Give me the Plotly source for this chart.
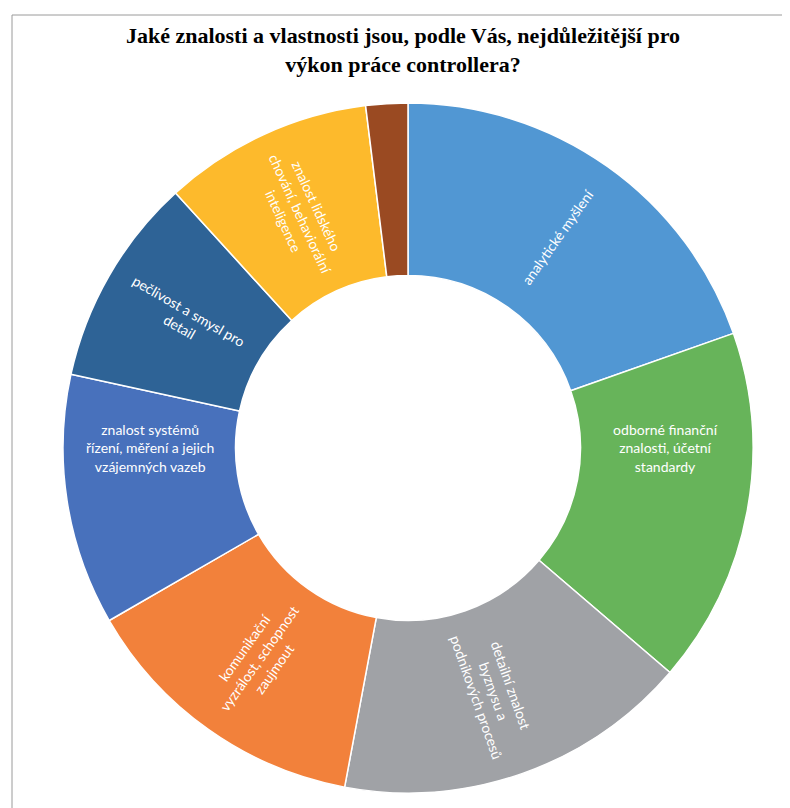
import plotly.graph_objects as go

title_text = "Jaké znalosti a vlastnosti jsou, podle Vás, nejdůležitější pro<br>výkon práce controllera?"

categories = [
    "analytické myšlení",
    "odborné finanční znalosti, účetní standardy",
    "detailní znalost byznysu a podnikových procesů",
    "komunikační vyzrálost, schopnost zaujmout",
    "znalost systémů řízení, měření a jejich vzájemných vazeb",
    "pečlivost a smysl pro detail",
    "znalost lidského chování, behaviorální inteligence",
    "jiné",
]
slice_text = [
    "analytické myšlení",
    "odborné finanční<br>znalosti, účetní<br>standardy",
    "detailní znalost<br>byznysu a<br>podnikových procesů",
    "komunikační<br>vyzrálost, schopnost<br>zaujmout",
    "znalost systémů<br>řízení, měření a jejich<br>vzájemných vazeb",
    "pečlivost a smysl pro<br>detail",
    "znalost lidského<br>chování, behaviorální<br>inteligence",
    "",
]
values = [20, 17, 17, 14, 12, 10, 10, 2]
colors = ["#5197D3", "#67B45A", "#A0A2A6", "#F2813B", "#4871BC", "#2E6396", "#FDBA2C", "#9A4A22"]

W, H = 790, 808
cx, cy, R = 400, 440, 345

fig = go.Figure(go.Pie(
    labels=categories,
    values=values,
    text=slice_text,
    textinfo="text",
    textposition="inside",
    insidetextorientation="radial",
    insidetextfont=dict(color="white", size=14, family="Lato, Open Sans, sans-serif"),
    hole=0.5,
    sort=False,
    direction="clockwise",
    rotation=0,
    marker=dict(colors=colors, line=dict(color="white", width=1.5)),
    domain=dict(x=[(cx - R) / W, (cx + R) / W], y=[1 - (cy + R) / H, 1 - (cy - R) / H]),
    showlegend=False,
    hoverinfo="label+value",
))

fig.update_layout(
    width=W, height=H,
    margin=dict(l=0, r=0, t=0, b=0),
    paper_bgcolor="white",
    title=dict(text="<b>" + title_text + "</b>", x=0.5, xanchor="center", y=1 - 35 / H, yanchor="top",
               font=dict(family="Liberation Serif, Times New Roman, serif", size=22, color="black")),
    shapes=[dict(type="rect", xref="paper", yref="paper", x0=4 / W, x1=1.05, y0=-0.05, y1=1 - 7 / H,
                 line=dict(color="#9a9a9a", width=1), fillcolor="rgba(0,0,0,0)", layer="below")],
)

fig.write_html("out.html")
